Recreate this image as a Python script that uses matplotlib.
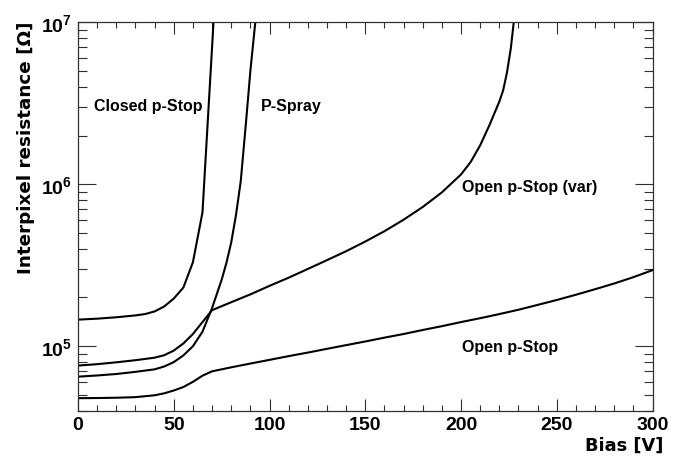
import numpy as np
import matplotlib
matplotlib.use('Agg')
import matplotlib.pyplot as plt
from matplotlib.ticker import MultipleLocator, FixedLocator, FixedFormatter, LogLocator, NullFormatter

# Interpixel resistance vs bias
closed_bias = [0, 10, 20, 30, 35, 40, 45, 50, 55, 60, 65, 70, 72]
closed_res = [1.46e5, 1.48e5, 1.51e5, 1.55e5, 1.58e5, 1.64e5, 1.76e5, 1.97e5, 2.3e5, 3.3e5, 6.7e5, 7.0e6, 1.8e7]

var_bias = [0, 10, 20, 30, 40, 45, 50, 55, 60, 65, 70, 80, 90, 100, 110, 120, 130, 140, 150,
            160, 170, 180, 190, 200, 205, 210, 215, 220, 222, 224, 226, 228]
var_res = [7.6e4, 7.75e4, 7.96e4, 8.2e4, 8.5e4, 8.8e4, 9.4e4, 1.04e5, 1.19e5, 1.41e5, 1.67e5,
           1.87e5, 2.09e5, 2.36e5, 2.65e5, 3.00e5, 3.40e5, 3.86e5, 4.43e5, 5.13e5, 6.04e5,
           7.24e5, 8.91e5, 1.15e6, 1.37e6, 1.74e6, 2.34e6, 3.24e6, 3.80e6, 4.9e6, 6.9e6, 1.12e7]

spray_bias = [0, 10, 20, 30, 40, 45, 50, 55, 60, 65, 70, 75, 77.5, 80, 82.5, 85, 88, 90, 93]
spray_res = [6.49e4, 6.6e4, 6.74e4, 6.95e4, 7.2e4, 7.5e4, 7.98e4, 8.77e4, 1.0e5, 1.23e5, 1.72e5,
             2.57e5, 3.27e5, 4.37e5, 6.46e5, 1.05e6, 2.63e6, 5.0e6, 1.12e7]

open_bias = [0, 10, 20, 30, 40, 45, 50, 55, 60, 65, 70, 80, 90, 100, 110, 120, 130, 140, 150,
             160, 170, 180, 190, 200, 210, 220, 230, 240, 250, 260, 270, 280, 290, 300]
open_res = [4.78e4, 4.79e4, 4.81e4, 4.85e4, 4.98e4, 5.12e4, 5.33e4, 5.6e4, 6.03e4, 6.58e4, 7.0e4,
            7.41e4, 7.82e4, 8.24e4, 8.69e4, 9.14e4, 9.64e4, 1.016e5, 1.07e5, 1.13e5, 1.19e5,
            1.26e5, 1.33e5, 1.41e5, 1.49e5, 1.58e5, 1.68e5, 1.80e5, 1.93e5, 2.08e5, 2.25e5,
            2.44e5, 2.67e5, 2.95e5]

curve_labels = ['Closed p-Stop', 'P-Spray', 'Open p-Stop (var)', 'Open p-Stop']
label_bias = [8.4, 95.7, 200.6, 200.6]
label_res = [2.89e6, 2.89e6, 9.06e5, 9.31e4]

y_major = [1e5, 1e6, 1e7]
y_major_labels = [r'$10^{5}$', r'$10^{6}$', r'$10^{7}$']

plt.rcParams['font.family'] = 'Liberation Sans'
plt.rcParams['font.weight'] = 'bold'
plt.rcParams['mathtext.fontset'] = 'custom'
plt.rcParams['mathtext.rm'] = 'Liberation Sans:bold'
plt.rcParams['mathtext.bf'] = 'Liberation Sans:bold'
plt.rcParams['mathtext.it'] = 'Liberation Sans:bold:italic'

fig = plt.figure(figsize=(6.8, 4.64), dpi=100)
ax = fig.add_axes([0.1147, 0.1127, 0.8449, 0.8371])

for xs, ys in [(closed_bias, closed_res), (var_bias, var_res), (spray_bias, spray_res), (open_bias, open_res)]:
    ax.plot(xs, ys, color='black', lw=1.5)

ax.set_yscale('log')
ax.set_xlim(0, 300)
ax.set_ylim(4e4, 1e7)

ax.xaxis.set_major_locator(MultipleLocator(50))
ax.xaxis.set_minor_locator(MultipleLocator(10))
ax.yaxis.set_major_locator(FixedLocator(y_major))
ax.yaxis.set_major_formatter(FixedFormatter(y_major_labels))
ax.yaxis.set_minor_locator(LogLocator(base=10, subs=np.arange(2, 10)))
ax.yaxis.set_minor_formatter(NullFormatter())

ax.tick_params(which='both', direction='in', top=True, right=True, color='#303030')
ax.tick_params(axis='x', which='major', length=8.4, width=0.8, pad=3.5, labelsize=14)
ax.tick_params(axis='x', which='minor', length=4.1, width=0.8)
ax.tick_params(axis='y', which='major', length=13.2, width=0.8, pad=4.5, labelsize=14)
ax.tick_params(axis='y', which='minor', length=6.5, width=0.8)
for sp in ax.spines.values():
    sp.set_linewidth(0.9)
    sp.set_color('#303030')

for txt, xv, yv in zip(curve_labels, label_bias, label_res):
    ax.text(xv, yv, txt, fontsize=11.5, ha='left', va='baseline')

# axis titles, ROOT style: right/top aligned
fig.text(663 / 680, 1 - 451 / 464, 'Bias [V]', family='DejaVu Sans', weight='bold',
         fontsize=12.8, ha='right', va='baseline')
fig.text(31 / 680, 1 - 21 / 464, 'Interpixel resistance [\u03a9]', family='DejaVu Sans', weight='bold',
         fontsize=13.2, rotation=90, rotation_mode='anchor', ha='right', va='baseline')

fig.savefig('out.png', dpi=100)
